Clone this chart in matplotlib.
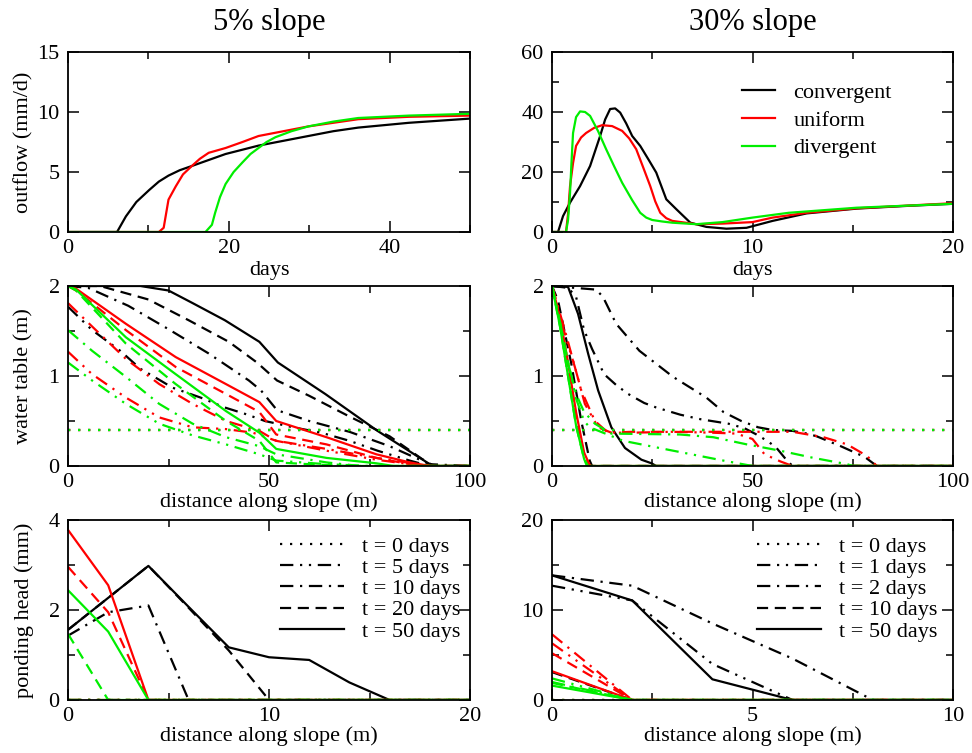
import matplotlib
matplotlib.use('Agg')
import matplotlib.pyplot as plt
from matplotlib.ticker import MultipleLocator

plt.rcParams['font.family'] = ['Liberation Serif', 'DejaVu Serif']
plt.rcParams['font.size'] = 16

# ---------------- outflow (mm/d) vs days ----------------
# 5% slope
q5_conv = ([0, 6.1, 7.2, 8.5, 10.1, 11.3, 12.5, 13.9, 15.4, 17.5, 19.6, 23.7, 26.8, 29.9, 33, 36.1, 42.4, 50],
           [0, 0, 1.3, 2.5, 3.5, 4.2, 4.7, 5.15, 5.5, 6.0, 6.5, 7.2, 7.6, 8.0, 8.4, 8.7, 9.1, 9.45])
q5_unif = ([0, 11.3, 11.9, 12.5, 13.4, 14.3, 15.4, 16.4, 17.5, 19.6, 21.7, 23.7, 26.8, 29.9, 33, 36.1, 42.4, 50],
           [0, 0, 0.35, 2.7, 3.8, 4.8, 5.5, 6.1, 6.6, 7.0, 7.5, 8.0, 8.4, 8.8, 9.1, 9.4, 9.6, 9.7])
q5_div = ([0, 17.1, 17.9, 18.3, 18.9, 19.6, 20.6, 21.7, 22.7, 23.7, 24.7, 25.8, 27.8, 29.9, 33, 36.1, 42.4, 50],
          [0, 0, 0.6, 1.6, 2.9, 4.0, 5.0, 5.8, 6.5, 7.0, 7.5, 7.9, 8.4, 8.8, 9.2, 9.5, 9.7, 9.85])
# 30% slope
q30_conv = ([0, 0.3, 0.55, 0.9, 1.4, 1.9, 2.15, 2.4, 2.65, 2.9, 3.15, 3.4, 3.7, 4.0, 4.4, 4.8, 5.2, 5.7, 6.2,
             6.9, 7.7, 8.7, 9.7, 11, 12.7, 15.2, 17.7, 20],
            [0, 0, 5.3, 9.8, 15.3, 22, 27, 32, 37.5, 41.0, 41.2, 39.8, 36.2, 32, 28.7, 24.3, 19.8, 10.9, 7.6,
             3.1, 1.7, 1.1, 1.4, 3.7, 6.2, 7.8, 8.7, 9.4])
q30_unif = ([0, 0.7, 0.8, 0.9, 1.05, 1.2, 1.45, 1.7, 2.1, 2.5, 3.0, 3.5, 3.85, 4.2, 4.55, 4.9, 5.15, 5.4, 5.7,
             6.0, 7.2, 8.5, 10, 11, 12.7, 15.2, 20],
            [0, 0, 6, 15.3, 23, 28.7, 31.5, 33, 34.7, 35.6, 35.3, 33.7, 31.2, 27.6, 21.5, 15.3, 10.2, 6.4, 4.6,
             3.7, 2.6, 2.8, 3.3, 4.8, 6.4, 7.9, 9.6])
q30_div = ([0, 0.7, 0.8, 0.9, 0.97, 1.05, 1.2, 1.4, 1.65, 1.9, 2.3, 2.7, 3.1, 3.5, 4.0, 4.4, 4.7, 5.0, 5.5, 6.0,
            7.2, 8.5, 10, 11.8, 15.2, 20],
           [0, 0, 4, 13, 23, 33, 38.3, 40.2, 40.0, 38.7, 33.6, 27.6, 21.9, 16.4, 10.6, 6.4, 4.8, 4.0, 3.5, 3.1,
            2.6, 3.3, 4.8, 6.4, 8.1, 9.4])

# ---------------- water table (m) vs distance ----------------
# 5% slope, times 0, 5, 10, 20, 50 days
wt5_conv = [([0, 100], [0.4, 0.4]),
            ([0, 6, 13, 18, 23, 26, 33, 39, 44, 49, 56, 63, 70, 77, 85, 90, 100],
             [1.77, 1.51, 1.28, 1.08, 0.95, 0.87, 0.76, 0.65, 0.58, 0.5, 0.43, 0.37, 0.28, 0.17, 0.06, 0, 0]),
            ([0, 5, 15, 25, 35, 45, 48, 52, 60, 70, 80, 90, 100],
             [2, 1.98, 1.78, 1.52, 1.25, 0.95, 0.84, 0.62, 0.5, 0.38, 0.22, 0.02, 0]),
            ([0, 8, 20, 30, 40, 47, 52, 60, 70, 80, 88, 91, 100],
             [2, 2, 1.85, 1.62, 1.38, 1.15, 0.95, 0.78, 0.55, 0.33, 0.08, 0, 0]),
            ([0, 18, 25, 31, 39, 47.6, 52.2, 64, 77, 90, 91, 100],
             [2, 2, 1.95, 1.81, 1.62, 1.38, 1.15, 0.8, 0.39, 0.02, 0, 0])]
wt5_unif = [([0, 100], [0.4, 0.4]),
            ([0, 6, 14.4, 22.7, 31, 39.3, 46, 51.8, 64.3, 76.7, 85, 90, 100],
             [1.27, 1.02, 0.76, 0.54, 0.43, 0.41, 0.37, 0.28, 0.17, 0.07, 0.02, 0, 0]),
            ([0, 6, 14.4, 22.7, 31, 39.3, 47.6, 51.8, 64.3, 76.7, 87, 90, 100],
             [1.81, 1.55, 1.19, 0.91, 0.69, 0.5, 0.39, 0.28, 0.19, 0.09, 0.02, 0, 0]),
            ([0, 2, 14.4, 26.8, 39.3, 47.6, 51.8, 64.3, 76.7, 85, 90, 100],
             [2, 1.95, 1.51, 1.1, 0.8, 0.6, 0.35, 0.24, 0.09, 0.02, 0, 0]),
            ([0, 2, 14.4, 26.8, 39.3, 47.6, 51.8, 64.3, 76.7, 85, 90, 100],
             [2, 1.97, 1.58, 1.21, 0.91, 0.71, 0.5, 0.32, 0.13, 0.04, 0, 0])]
wt5_div = [([0, 100], [0.4, 0.4]),
           ([0, 6, 14.4, 22.7, 31, 39.3, 47.6, 51.8, 64.3, 75, 100],
            [1.15, 0.95, 0.69, 0.47, 0.34, 0.24, 0.13, 0.06, 0.02, 0, 0]),
           ([0, 6, 14.4, 22.7, 31, 39.3, 47.6, 51.8, 64.3, 72.6, 100],
            [1.51, 1.28, 0.99, 0.69, 0.47, 0.32, 0.22, 0.13, 0.04, 0, 0]),
           ([0, 2, 14.4, 26.8, 39.3, 47.6, 51.8, 60, 70, 100],
            [2, 1.95, 1.36, 0.91, 0.5, 0.28, 0.04, 0.02, 0, 0]),
           ([0, 2, 14.4, 26.8, 39.3, 47.6, 51.8, 64.3, 76.7, 81, 100],
            [2, 1.96, 1.43, 1.02, 0.61, 0.37, 0.19, 0.09, 0.03, 0, 0])]
# 30% slope, times 0, 1, 2, 10, 50 days
wt30_conv = [([0, 100], [0.4, 0.4]),
             ([0, 4, 6, 8, 10, 13, 16, 19, 23, 26, 32, 35, 37, 44, 48, 51, 54, 56, 58.6, 60, 100],
              [2, 1.98, 1.88, 1.51, 1.3, 1.02, 0.9, 0.8, 0.7, 0.65, 0.57, 0.54, 0.52, 0.47, 0.42, 0.35,
               0.27, 0.2, 0.06, 0, 0]),
             ([0, 11, 12.7, 16, 21.8, 30.2, 38.5, 42.75, 47.2, 51.4, 55, 60, 63.6, 66, 72, 78, 81, 100],
              [2, 1.96, 1.88, 1.58, 1.28, 0.99, 0.76, 0.6, 0.5, 0.43, 0.4, 0.39, 0.36, 0.33, 0.22, 0.1, 0, 0]),
             ([0, 1.5, 4.8, 7.3, 9.4, 10, 100],
              [2, 1.84, 1.14, 0.5, 0.06, 0, 0]),
             ([0, 4, 6.5, 9, 11.5, 14.8, 18.2, 22.3, 24.8, 26, 100],
              [2, 1.99, 1.69, 1.25, 0.84, 0.43, 0.2, 0.07, 0.03, 0, 0])]
wt30_unif = [([0, 100], [0.4, 0.4]),
             ([0, 3.2, 5.7, 8.2, 11.5, 14.8, 20, 30, 40, 46, 50, 53, 57, 60, 100],
              [2, 1.47, 1.1, 0.69, 0.43, 0.37, 0.37, 0.38, 0.37, 0.36, 0.3, 0.13, 0.05, 0, 0]),
             ([0, 3.2, 5.7, 7.3, 10.7, 14, 20, 40, 60, 67.7, 73.6, 78.6, 81, 100],
              [2, 1.51, 1.1, 0.84, 0.5, 0.37, 0.38, 0.38, 0.38, 0.32, 0.24, 0.11, 0, 0]),
             ([0, 2, 4, 6, 8, 9.5, 100],
              [2, 1.6, 1.1, 0.55, 0.12, 0, 0]),
             ([0, 2, 4, 6, 8, 9.5, 100],
              [2, 1.65, 1.15, 0.6, 0.15, 0, 0])]
wt30_div = [([0, 100], [0.4, 0.4]),
            ([0, 2, 4, 6, 8, 9.4, 17.75, 30.2, 42.75, 50, 100],
             [2, 1.6, 1.15, 0.75, 0.5, 0.43, 0.28, 0.17, 0.06, 0, 0]),
            ([0, 2, 4, 6, 8, 10.7, 14.8, 31.9, 40.2, 48.6, 56.9, 65.2, 73.6, 75, 100],
             [2, 1.6, 1.15, 0.8, 0.6, 0.47, 0.36, 0.35, 0.32, 0.24, 0.17, 0.09, 0.02, 0, 0]),
            ([0, 2, 4, 6, 8, 9, 100],
             [2, 1.55, 1.0, 0.45, 0.08, 0, 0]),
            ([0, 2, 4, 6, 8, 8.7, 100],
             [2, 1.55, 1.0, 0.45, 0.08, 0, 0])]

# ---------------- ponding head (mm) vs distance ----------------
ph5_conv = [([0, 20], [0, 0]),
            ([0, 20], [0, 0]),
            ([0, 2, 4, 6, 20], [1.43, 1.95, 2.1, 0, 0]),
            ([0, 2, 4, 6, 8, 10, 20], [1.56, 2.27, 2.98, 2.05, 1.1, 0, 0]),
            ([0, 2, 4, 6, 8, 10, 12, 14, 16, 20], [1.56, 2.27, 2.98, 2.07, 1.17, 0.95, 0.89, 0.39, 0, 0])]
ph5_unif = [([0, 20], [0, 0]),
            ([0, 20], [0, 0]),
            ([0, 20], [0, 0]),
            ([0, 2, 4, 20], [2.96, 1.95, 0, 0]),
            ([0, 2, 4, 20], [3.78, 2.55, 0, 0])]
ph5_div = [([0, 20], [0, 0]),
           ([0, 20], [0, 0]),
           ([0, 20], [0, 0]),
           ([0, 2, 20], [1.47, 0, 0]),
           ([0, 2, 4, 20], [2.44, 1.52, 0, 0])]
ph30_conv = [([0, 10], [0, 0]),
             ([0, 2, 4, 6, 10], [12.7, 11.06, 4.0, 0, 0]),
             ([0, 2, 4, 6, 8, 10], [13.85, 12.7, 8.5, 4.6, 0, 0]),
             ([0, 2, 10], [3.1, 0, 0]),
             ([0, 2, 4, 6, 10], [13.85, 11.06, 2.3, 0, 0])]
ph30_unif = [([0, 10], [0, 0]),
             ([0, 2, 10], [6.3, 0, 0]),
             ([0, 2, 10], [7.3, 0, 0]),
             ([0, 2, 10], [5.2, 0, 0]),
             ([0, 2, 10], [3.2, 0, 0])]
ph30_div = [([0, 10], [0, 0]),
            ([0, 2, 10], [2.4, 0, 0]),
            ([0, 2, 10], [2.0, 0, 0]),
            ([0, 2, 10], [1.9, 0, 0]),
            ([0, 2, 10], [1.6, 0, 0])]

shape_names = ['convergent', 'uniform', 'divergent']
shape_colors = ['#000000', '#ff0000', '#00ee00']
times5 = [0, 5, 10, 20, 50]
times30 = [0, 1, 2, 10, 50]
# dotted, dash-dot-dot, dash-dot, dashed, solid
time_styles = [(0, (1, 3.5)), (0, (6, 3, 1, 3, 1, 3)), (0, (6, 3, 1, 3)), (0, (5, 3)), '-']

fig = plt.figure(figsize=(9.72, 7.53), dpi=100)
W, H = 972, 753


def make_ax(x0, x1, ytop, ybot):
    ax = fig.add_axes([x0 / W, 1 - ybot / H, (x1 - x0) / W, (ybot - ytop) / H])
    ax.tick_params(which='both', direction='in', top=True, right=True, width=1.1)
    ax.tick_params(axis='x', which='both', pad=5)
    ax.tick_params(axis='y', which='both', pad=6)
    ax.tick_params(which='major', length=8)
    ax.tick_params(which='minor', length=5)
    for s in ax.spines.values():
        s.set_linewidth(1.3)
    return ax


lw = 1.6
cols = [(68, 470), (552, 953)]
rows = [(52, 232), (286, 466), (520, 700)]
axs = [[make_ax(c[0], c[1], r[0], r[1]) for c in cols] for r in rows]

# outflow panels
for ax, curves in [(axs[0][0], [q5_conv, q5_unif, q5_div]), (axs[0][1], [q30_conv, q30_unif, q30_div])]:
    for (x, y), c, name in zip(curves, shape_colors, shape_names):
        ax.plot(x, y, color=c, lw=lw, label=name)

ax = axs[0][0]
ax.set_xlim(0, 50); ax.set_ylim(0, 15)
ax.xaxis.set_major_locator(MultipleLocator(20)); ax.xaxis.set_minor_locator(MultipleLocator(10))
ax.yaxis.set_major_locator(MultipleLocator(5))
ax.set_xlabel('days', labelpad=2)
ax.set_ylabel('outflow (mm/d)')
ax.set_title('5% slope', fontsize=22, pad=16)

ax = axs[0][1]
ax.set_xlim(0, 20); ax.set_ylim(0, 60)
ax.xaxis.set_major_locator(MultipleLocator(10)); ax.xaxis.set_minor_locator(MultipleLocator(5))
ax.yaxis.set_major_locator(MultipleLocator(20)); ax.yaxis.set_minor_locator(MultipleLocator(10))
ax.set_xlabel('days', labelpad=2)
ax.set_title('30% slope', fontsize=22, pad=16)
ax.legend(loc='upper left', bbox_to_anchor=(0.474, 0.83), frameon=False, handlelength=1.5,
          handletextpad=0.8, labelspacing=0.32, borderpad=0, borderaxespad=0)

# water table and ponding panels
groups = [(axs[1][0], [wt5_conv, wt5_unif, wt5_div]), (axs[1][1], [wt30_conv, wt30_unif, wt30_div]),
          (axs[2][0], [ph5_conv, ph5_unif, ph5_div]), (axs[2][1], [ph30_conv, ph30_unif, ph30_div])]
for ax, shapes in groups:
    for curves, c in zip(shapes, shape_colors):
        for (x, y), ls in zip(curves, time_styles):
            ax.plot(x, y, color=c, lw=lw, linestyle=ls)

for ax in axs[1]:
    ax.set_xlim(0, 100); ax.set_ylim(0, 2)
    ax.xaxis.set_major_locator(MultipleLocator(50)); ax.xaxis.set_minor_locator(MultipleLocator(25))
    ax.yaxis.set_major_locator(MultipleLocator(1)); ax.yaxis.set_minor_locator(MultipleLocator(0.5))
    ax.set_xlabel('distance along slope (m)', labelpad=0)
axs[1][0].set_ylabel('water table (m)')

ax = axs[2][0]
ax.set_xlim(0, 20); ax.set_ylim(0, 4)
ax.xaxis.set_major_locator(MultipleLocator(10)); ax.xaxis.set_minor_locator(MultipleLocator(5))
ax.yaxis.set_major_locator(MultipleLocator(2)); ax.yaxis.set_minor_locator(MultipleLocator(1))
ax.set_xlabel('distance along slope (m)', labelpad=0)
ax.set_ylabel('ponding head (mm)')

ax = axs[2][1]
ax.set_xlim(0, 10); ax.set_ylim(0, 20)
ax.xaxis.set_major_locator(MultipleLocator(5)); ax.xaxis.set_minor_locator(MultipleLocator(2.5))
ax.yaxis.set_major_locator(MultipleLocator(10)); ax.yaxis.set_minor_locator(MultipleLocator(5))
ax.set_xlabel('distance along slope (m)', labelpad=0)

# time legends (black line styles)
for ax, times, x0 in [(axs[2][0], times5, 0.527), (axs[2][1], times30, 0.511)]:
    handles = [plt.Line2D([], [], color='k', lw=lw, linestyle=ls) for ls in time_styles]
    labels = ['t = %d days' % t for t in times]
    ax.legend(handles, labels, loc='upper left', bbox_to_anchor=(x0, 0.91), frameon=False,
              handlelength=2.9, handletextpad=0.8, labelspacing=0.03, borderpad=0, borderaxespad=0)

for ax in [axs[0][0], axs[1][0], axs[2][0]]:
    ax.yaxis.set_label_coords(-0.085, 0.5)

fig.savefig('out.png', dpi=100)
